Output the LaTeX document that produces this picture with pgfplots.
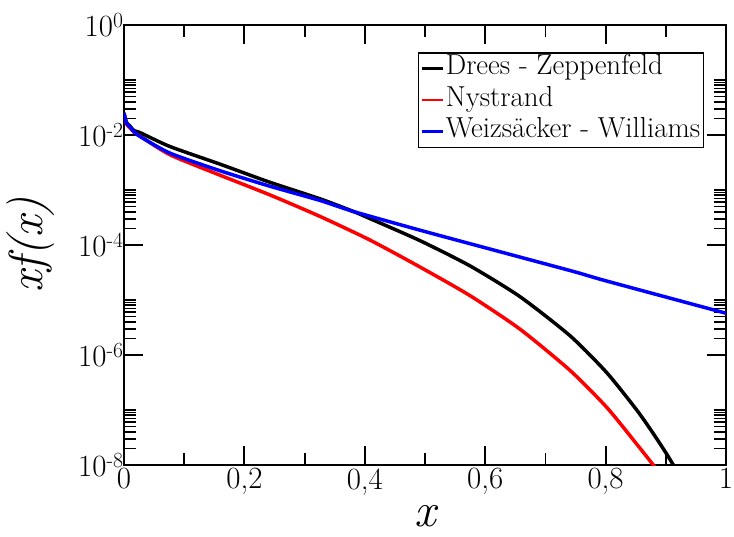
\documentclass[border=0pt]{standalone}
\usepackage{fontspec}
\usepackage{pgfplots}
\pgfplotsset{compat=1.18}
\begin{document}
\begin{tikzpicture}
\begin{axis}[
  at={(0,0)}, anchor=south west,
  scale only axis, width=602bp, height=440bp,
  xmin=0, xmax=1, ymode=log, ymin=1e-8, ymax=1,
  xtick={0,0.2,0.4,0.6,0.8,1},
  xticklabels={0,{0,2},{0,4},{0,6},{0,8},1},
  minor xtick={0.1,0.3,0.5,0.7,0.9},
  ytick={1e-8,1e-6,1e-4,1e-2,1},
  yticklabels={10\textsuperscript{-8},10\textsuperscript{-6},10\textsuperscript{-4},10\textsuperscript{-2},10\textsuperscript{0}},
  minor ytick={2e-8,3e-8,4e-8,5e-8,6e-8,7e-8,8e-8,9e-8,1e-7,
               2e-6,3e-6,4e-6,5e-6,6e-6,7e-6,8e-6,9e-6,1e-5,
               2e-4,3e-4,4e-4,5e-4,6e-4,7e-4,8e-4,9e-4,1e-3,
               2e-2,3e-2,4e-2,5e-2,6e-2,7e-2,8e-2,9e-2,1e-1},
  tick pos=both, xticklabel pos=lower, yticklabel pos=left,
  tick align=inside,
  major tick length=19bp, minor tick length=12.5bp,
  axis line style={line width=2.5bp},
  tick style={black, line width=1.8bp},
  tick label style={font=\fontsize{31}{31}\selectfont},
  yticklabel style={xshift=3bp},
  every axis x label/.style={at={(axis description cs:0.5,-0.117)}, anchor=center},
  every axis y label/.style={at={(axis description cs:-0.155,0.5)}, anchor=center, rotate=90},
  xlabel={\fontsize{48}{48}\selectfont\itshape x},
  ylabel={\fontsize{48}{48}\selectfont\itshape xf(x)},
  legend style={at={(axis description cs:0.9635,0.9386)}, anchor=north east,
    draw=black, line width=1.5bp, inner xsep=2bp, inner ysep=0bp,
    column sep=1bp, row sep=0bp,
    font=\fontsize{29}{32}\selectfont,
    cells={anchor=west},
    nodes={inner xsep=1bp, inner ysep=1bp, text height=21bp, text depth=8.5bp}},
  legend image code/.code={\draw[#1, line width=2.5bp] (0bp,0bp) -- (21bp,0bp);},
  clip=true,
]
\addplot[black, line width=3.5bp, smooth, tension=0.4] coordinates {
(0,0.0251) (0.004,0.0170) (0.01,0.0145) (0.0166,0.0120) (0.027,0.0110) (0.0764,0.00617)
(0.1595,0.00295) (0.2425,0.00138) (0.3256,6.92e-4) (0.3810,4.07e-4) (0.4086,3.02e-4)
(0.4917,1.20e-4) (0.5748,4.17e-5) (0.6578,1.15e-5) (0.7409,2.24e-6) (0.8018,4.79e-7)
(0.8517,1.0e-7) (0.8793,3.72e-8) (0.9015,1.58e-8) (0.9153,8.9e-9) (0.92,7.2e-9)
};
\addlegendentry{Drees - Zeppenfeld}
\addplot[red, line width=3.5bp, smooth, tension=0.4] coordinates {
(0,0.0251) (0.004,0.0160) (0.01,0.0135) (0.0166,0.0112) (0.027,0.0095) (0.0764,0.00437)
(0.1595,0.00186) (0.2425,8.13e-4) (0.3256,3.31e-4) (0.4086,1.23e-4) (0.4917,3.98e-5)
(0.5748,1.20e-5) (0.6578,2.95e-6) (0.7409,5.25e-7) (0.8018,1.12e-7) (0.8517,2.40e-8)
(0.8821,9.1e-9) (0.886,7.9e-9)
};
\addlegendentry{Nystrand}
\addplot[blue, line width=3.5bp, smooth, tension=0.4] coordinates {
(0,0.0251) (0.004,0.0165) (0.01,0.0140) (0.0166,0.0115) (0.027,0.00933) (0.0764,0.00468)
(0.1595,0.00224) (0.2425,0.00117) (0.3256,6.46e-4) (0.3810,4.07e-4) (0.4917,1.86e-4)
(0.6,8.91e-5) (0.7463,3.31e-5) (0.8,2.24e-5) (1.0,5.75e-6)
};
\addlegendentry{Weizsäcker - Williams}
\end{axis}
\pgfresetboundingbox
\useasboundingbox (-124bp,-72bp) rectangle (610bp,465bp);
\end{tikzpicture}
\end{document}
